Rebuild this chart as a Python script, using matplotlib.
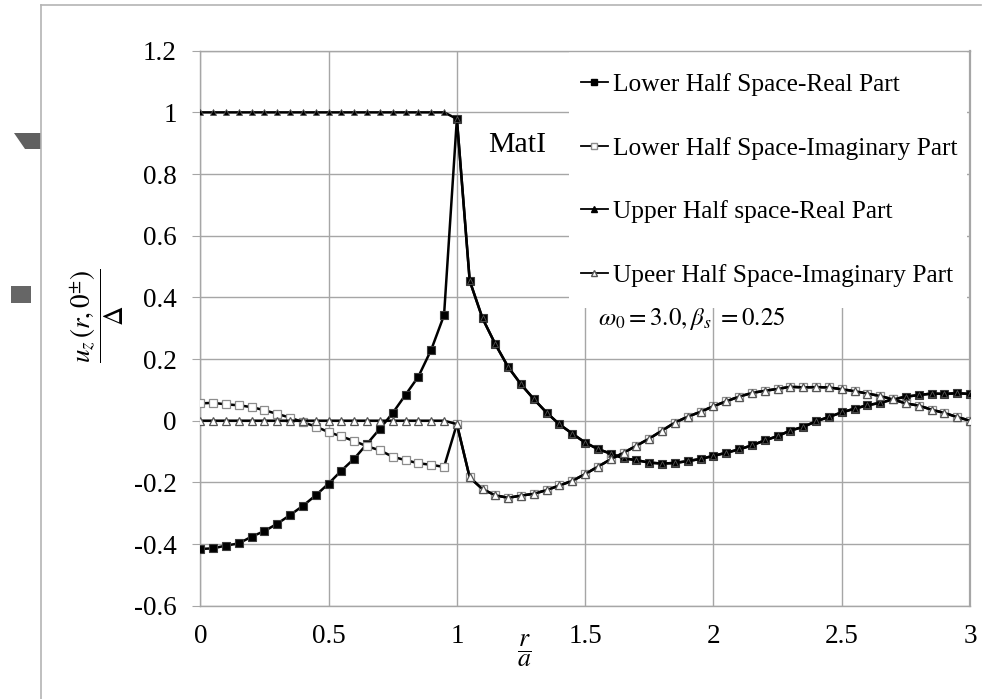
import matplotlib
matplotlib.use('Agg')
import matplotlib.pyplot as plt
from matplotlib.lines import Line2D
from matplotlib.patches import Rectangle, Polygon

plt.rcParams['font.family'] = ['Liberation Serif', 'DejaVu Serif']
plt.rcParams['mathtext.fontset'] = 'stix'
plt.rcParams['axes.unicode_minus'] = False

# ---------------- data ----------------
r = [0.0, 0.05, 0.1, 0.15, 0.2, 0.25, 0.3, 0.35, 0.4, 0.45,
     0.5, 0.55, 0.6, 0.65, 0.7, 0.75, 0.8, 0.85, 0.9, 0.95,
     1.0, 1.05, 1.1, 1.15, 1.2, 1.25, 1.3, 1.35, 1.4, 1.45,
     1.5, 1.55, 1.6, 1.65, 1.7, 1.75, 1.8, 1.85, 1.9, 1.95,
     2.0, 2.05, 2.1, 2.15, 2.2, 2.25, 2.3, 2.35, 2.4, 2.45,
     2.5, 2.55, 2.6, 2.65, 2.7, 2.75, 2.8, 2.85, 2.9, 2.95, 3.0]

lower_real = [-0.416, -0.414, -0.405, -0.398, -0.376, -0.358, -0.334, -0.306, -0.276, -0.242,
              -0.204, -0.162, -0.123, -0.075, -0.026, 0.025, 0.084, 0.143, 0.230, 0.342,
              0.979, 0.454, 0.332, 0.248, 0.174, 0.118, 0.070, 0.026, -0.012, -0.042,
              -0.071, -0.092, -0.107, -0.122, -0.128, -0.136, -0.139, -0.137, -0.131, -0.124,
              -0.114, -0.104, -0.093, -0.080, -0.064, -0.050, -0.032, -0.020, -0.002, 0.012,
              0.027, 0.039, 0.050, 0.058, 0.069, 0.078, 0.083, 0.088, 0.087, 0.089, 0.087]

lower_imag = [0.056, 0.058, 0.053, 0.050, 0.044, 0.034, 0.022, 0.010, -0.005, -0.019,
              -0.037, -0.051, -0.066, -0.083, -0.096, -0.117, -0.128, -0.138, -0.143, -0.150,
              -0.011, -0.184, -0.222, -0.242, -0.250, -0.243, -0.237, -0.225, -0.210, -0.195,
              -0.173, -0.149, -0.125, -0.104, -0.081, -0.058, -0.032, -0.006, 0.013, 0.029,
              0.047, 0.063, 0.078, 0.090, 0.097, 0.103, 0.110, 0.108, 0.109, 0.108,
              0.102, 0.096, 0.088, 0.080, 0.069, 0.056, 0.049, 0.036, 0.025, 0.012, 0.000]

upper_real = [1.0, 1.0, 1.0, 1.0, 1.0, 1.0, 1.0, 1.0, 1.0, 1.0,
              1.0, 1.0, 1.0, 1.0, 1.0, 1.0, 1.0, 1.0, 1.0, 1.0,
              0.979, 0.454, 0.332, 0.248, 0.174, 0.118, 0.070, 0.026, -0.012, -0.042,
              -0.071, -0.092, -0.107, -0.122, -0.128, -0.136, -0.139, -0.137, -0.131, -0.124,
              -0.114, -0.104, -0.093, -0.080, -0.064, -0.050, -0.032, -0.020, -0.002, 0.012,
              0.027, 0.039, 0.050, 0.058, 0.069, 0.078, 0.083, 0.088, 0.087, 0.089, 0.087]

upper_imag = [0.0, 0.0, 0.0, 0.0, 0.0, 0.0, 0.0, 0.0, 0.0, 0.0,
              0.0, 0.0, 0.0, 0.0, 0.0, 0.0, 0.0, 0.0, 0.0, 0.0,
              -0.011, -0.184, -0.222, -0.242, -0.250, -0.243, -0.237, -0.225, -0.210, -0.195,
              -0.173, -0.149, -0.125, -0.104, -0.081, -0.058, -0.032, -0.006, 0.013, 0.029,
              0.047, 0.063, 0.078, 0.090, 0.097, 0.103, 0.110, 0.108, 0.109, 0.108,
              0.102, 0.096, 0.088, 0.080, 0.069, 0.056, 0.049, 0.036, 0.025, 0.012, 0.000]

series_labels = ['Lower Half Space-Real Part', 'Lower Half Space-Imaginary Part',
                 'Upper Half space-Real Part', 'Upeer Half Space-Imaginary Part']
x_ticks = [0, 0.5, 1, 1.5, 2, 2.5, 3]
x_tick_labels = ['0', '0.5', '1', '1.5', '2', '2.5', '3']
y_ticks = [-0.6, -0.4, -0.2, 0, 0.2, 0.4, 0.6, 0.8, 1.0, 1.2]
y_tick_labels = ['-0.6', '-0.4', '-0.2', '0', '0.2', '0.4', '0.6', '0.8', '1', '1.2']

# ---------------- figure ----------------
W, H = 990, 699
fig = plt.figure(figsize=(W / 100, H / 100), dpi=100)

def fx(px):
    return px / W

def fy(py):
    return 1 - py / H

ax_l, ax_r, ax_t, ax_b = 200.3, 970, 50.7, 605.7
ax = fig.add_axes([fx(ax_l), fy(ax_b), fx(ax_r) - fx(ax_l), fy(ax_t) - fy(ax_b)])
ax.set_xlim(0, 3)
ax.set_ylim(-0.6, 1.2)
ax.set_axisbelow(True)
ax.grid(True, color='#a6a6a6', linewidth=1.0)
for s in ax.spines.values():
    s.set_color('#a6a6a6')
    s.set_linewidth(1.0)
ax.spines['right'].set_linewidth(1.6)

ax.set_xticks(x_ticks)
ax.set_xticklabels(x_tick_labels)
ax.set_yticks(y_ticks)
ax.set_yticklabels(y_tick_labels)
ax.tick_params(axis='y', length=6, color='#a6a6a6', pad=11, labelsize=19.5)
ax.tick_params(axis='x', length=0, pad=13, labelsize=19.5)

lw = 1.8
l1, = ax.plot(r, lower_real, color='black', lw=lw, marker='s', markersize=6.3,
              markerfacecolor='black', markeredgecolor='#3a3a3a', markeredgewidth=0.8, zorder=3)
l2, = ax.plot(r, lower_imag, color='black', lw=lw, marker='s', markersize=6.3,
              markerfacecolor='white', markeredgecolor='#8c8c8c', markeredgewidth=0.9, zorder=3)
l3, = ax.plot(r, upper_real, color='black', lw=lw, marker='^', markersize=5,
              markerfacecolor='black', markeredgecolor='#555555', markeredgewidth=0.6, zorder=3)
l4, = ax.plot(r, upper_imag, color='black', lw=lw, marker='^', markersize=6.3,
              markerfacecolor='white', markeredgecolor='#555555', markeredgewidth=0.9, zorder=3)

# legend background (white block hiding grid)
ax.add_patch(Rectangle((fx(569), fy(308)), fx(967) - fx(569), fy(51) - fy(308),
                       transform=fig.transFigure, facecolor='white', edgecolor='none', zorder=1))

h1 = Line2D([], [], color='black', lw=1.3, marker='s', markersize=4, markerfacecolor='black', markeredgecolor='black')
h2 = Line2D([], [], color='black', lw=1.3, marker='s', markersize=4, markerfacecolor='white', markeredgecolor='#8c8c8c')
h3 = Line2D([], [], color='black', lw=1.3, marker='^', markersize=4, markerfacecolor='black', markeredgecolor='black')
h4 = Line2D([], [], color='black', lw=1.3, marker='^', markersize=4, markerfacecolor='white', markeredgecolor='#555555')
leg = ax.legend([h1, h2, h3, h4], series_labels, loc='upper left',
                bbox_to_anchor=(fx(581), fy(73)), bbox_transform=fig.transFigure,
                frameon=False, fontsize=18.3, handlelength=1.05, handletextpad=0.2,
                labelspacing=1.6, borderpad=0, borderaxespad=0)
leg.set_zorder(5)

# annotations
fig.text(fx(488), fy(145), 'MatI', fontsize=21.5, ha='left', va='center')
fig.text(fx(598), fy(318), r'$\omega_0 = 3.0, \beta_s\ = 0.25$', fontsize=18, ha='left', va='center')
fig.text(fx(97), fy(316), r'$\dfrac{u_z\,(r,0^{\pm})}{\Delta}$', fontsize=19.5,
         rotation=90, ha='center', va='center')
fig.text(fx(524), fy(651), r'$\dfrac{r}{a}$', fontsize=18.5, ha='center', va='center')

# outer frame and decorations
fig.add_artist(Line2D([fx(41), fx(41)], [fy(4.7), fy(699)], transform=fig.transFigure,
                      color='#b4b4b4', lw=1.2))
fig.add_artist(Line2D([fx(41), fx(981)], [fy(4.7), fy(4.7)], transform=fig.transFigure,
                      color='#b4b4b4', lw=1.2))
fig.add_artist(Polygon([(fx(14), fy(133)), (fx(41), fy(133)), (fx(41), fy(149.3)), (fx(25), fy(149.3))],
                       closed=True, transform=fig.transFigure, facecolor='#606060', edgecolor='none'))
fig.add_artist(Rectangle((fx(10.7), fy(302.7)), fx(30.7) - fx(10.7), fy(286) - fy(302.7),
                         transform=fig.transFigure, facecolor='#666666', edgecolor='none'))

fig.savefig('out.png', dpi=100)
